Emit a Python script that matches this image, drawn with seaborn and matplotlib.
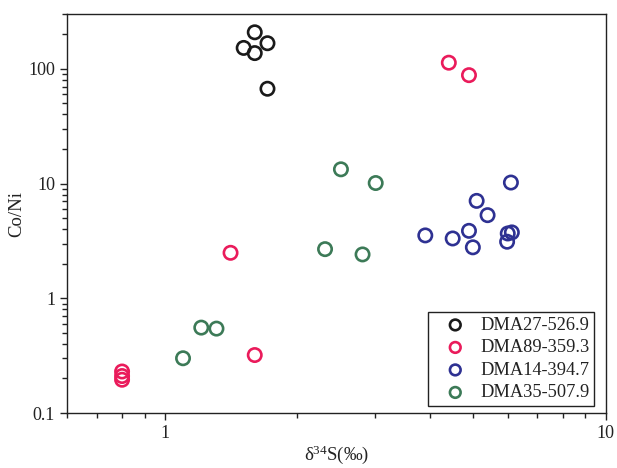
import numpy as np
import pandas as pd
import matplotlib
matplotlib.use("Agg")
import matplotlib.pyplot as plt
from matplotlib.ticker import LogLocator, NullFormatter, FixedLocator, FuncFormatter
import seaborn as sns

# Sample groups and their colours
groups = ["DMA27-526.9", "DMA89-359.3", "DMA14-394.7", "DMA35-507.9"]
colors = ["#1a1a1a", "#ea1b5b", "#2e3192", "#3c7a57"]

# delta34S (per mil) and Co/Ni for each sample group
d34s_dma27 = [1.60, 1.51, 1.71, 1.60, 1.71]
coni_dma27 = [208, 152, 167, 137, 67]

d34s_dma89 = [4.41, 4.90, 1.41, 1.60, 0.80, 0.80, 0.80]
coni_dma89 = [113, 88, 2.49, 0.32, 0.23, 0.21, 0.195]

d34s_dma14 = [6.10, 5.10, 5.40, 3.90, 4.50, 4.90, 5.00, 6.00, 6.13, 5.98]
coni_dma14 = [10.2, 7.06, 5.30, 3.53, 3.32, 3.87, 2.78, 3.67, 3.75, 3.11]

d34s_dma35 = [2.51, 3.01, 2.31, 2.81, 1.10, 1.21, 1.31]
coni_dma35 = [13.3, 10.1, 2.68, 2.41, 0.30, 0.555, 0.544]

x_ticks = [1, 10]
y_ticks = [0.1, 1, 10, 100]

df = pd.concat([
    pd.DataFrame({"d34S": d34s_dma27, "CoNi": coni_dma27, "sample": groups[0]}),
    pd.DataFrame({"d34S": d34s_dma89, "CoNi": coni_dma89, "sample": groups[1]}),
    pd.DataFrame({"d34S": d34s_dma14, "CoNi": coni_dma14, "sample": groups[2]}),
    pd.DataFrame({"d34S": d34s_dma35, "CoNi": coni_dma35, "sample": groups[3]}),
], ignore_index=True)

sns.set_style("ticks")
plt.rcParams["font.family"] = ["Liberation Serif", "DejaVu Serif"]
plt.rcParams["mathtext.fontset"] = "custom"
plt.rcParams["mathtext.rm"] = "Liberation Serif"
plt.rcParams["mathtext.it"] = "Liberation Serif:italic"
plt.rcParams["axes.edgecolor"] = "#222222"
plt.rcParams["axes.linewidth"] = 1.0

fig = plt.figure(figsize=(6.17, 4.68), dpi=100)
ax = fig.add_axes([0.1086, 0.1175, 0.8728, 0.8525])

for name, col in zip(groups, colors):
    sub = df[df["sample"] == name]
    sns.scatterplot(data=sub, x="d34S", y="CoNi", ax=ax, marker="o", s=92,
                    color=col, facecolor="none", edgecolor=col,
                    linewidth=1.9, label=name, legend=False)

ax.set_xscale("log")
ax.set_yscale("log")
ax.set_xlim(0.6, 10)
ax.set_ylim(0.1, 300)

ax.xaxis.set_major_locator(FixedLocator(x_ticks))
ax.yaxis.set_major_locator(FixedLocator(y_ticks))
ax.xaxis.set_minor_locator(LogLocator(base=10, subs=np.arange(2, 10)))
ax.yaxis.set_minor_locator(LogLocator(base=10, subs=np.arange(2, 10)))
fmt = FuncFormatter(lambda v, p: f"{v:g}")
ax.xaxis.set_major_formatter(fmt)
ax.yaxis.set_major_formatter(fmt)
ax.xaxis.set_minor_formatter(NullFormatter())
ax.yaxis.set_minor_formatter(NullFormatter())

ax.tick_params(which="major", direction="out", length=5, width=1.0,
               labelsize=13, colors="#222222", labelcolor="#222222", pad=3.5)
ax.tick_params(which="minor", direction="out", length=3.5, width=1.0,
               colors="#222222")
ax.tick_params(top=False, right=False, which="both")

for side in ["top", "right", "left", "bottom"]:
    ax.spines[side].set_visible(True)
    ax.spines[side].set_color("#222222")

ax.set_xlabel("δ$^{34}$S(‰)", fontsize=13.5, color="#222222", labelpad=1)
ax.set_ylabel("Co/Ni", fontsize=13.5, color="#222222", labelpad=2)

leg = ax.legend(loc="lower right", bbox_to_anchor=(0.979, 0.018),
                borderaxespad=0, fontsize=13.2, frameon=True, fancybox=False,
                framealpha=1, edgecolor="#222222", markerscale=0.8,
                handlelength=2.5, handletextpad=0.12, borderpad=0.25,
                labelspacing=0.3)
leg.get_frame().set_linewidth(1.0)
for t in leg.get_texts():
    t.set_color("#222222")

fig.savefig("out.png", dpi=100)
